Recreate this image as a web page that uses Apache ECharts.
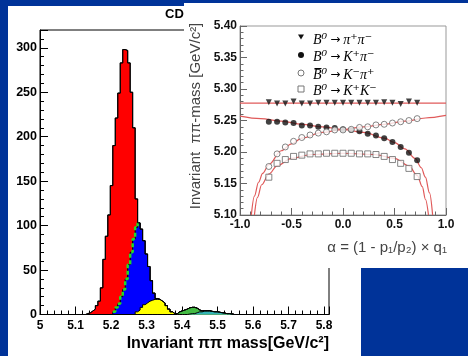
<!DOCTYPE html>
<html>
<head>
<meta charset="utf-8">
<script src="https://cdn.jsdelivr.net/npm/echarts@6/dist/echarts.min.js"></script>
<style>
  html, body { margin: 0; padding: 0; background: #003399; }
  #c { width: 468px; height: 356px; }
</style>
</head>
<body>
<div id="c"></div>
<script>
// ---- Invariant pi-pi mass histogram: 65 bins of 0.007 GeV/c^2 from 5.100 ----
const binStart = 5.100;
const binWidth = 0.007;

const redCounts = [
  0, 0, 0, 0, 1, 2, 4, 6, 10, 15, 30, 62, 88, 112, 145, 187, 213, 237, 263, 270,
  257, 227, 180, 125, 32, 0, 0, 0, 0, 0, 0, 0, 0, 0, 0, 0, 0, 0, 0, 0,
  0, 0, 0, 0, 0, 0, 0, 0, 0, 0, 0, 0, 0, 0, 0, 0, 0, 0, 0, 0,
  0, 0, 0, 0, 0
];
const blueCounts = [
  0, 0, 0, 0, 0, 0, 0, 0, 0, 0, 0, 0, 0, 0, 0, 3, 8, 12, 20, 28,
  40, 56, 70, 85, 95, 98, 88, 72, 55, 39, 22, 7, 1, 0, 0, 0, 0, 0, 0, 0,
  0, 0, 0, 0, 0, 0, 0, 0, 0, 0, 0, 0, 0, 0, 0, 0, 0, 0, 0, 0,
  0, 0, 0, 0, 0
];
const yellowCounts = [
  0, 0, 0, 0, 0, 0, 0, 0, 0, 0, 0, 0, 0, 0, 0, 0, 0, 0, 0, 0,
  0, 0, 0, 0, 3, 5, 8, 11, 13, 15, 16, 17, 17, 17, 15, 13, 10, 6, 3, 1,
  0, 0, 0, 0, 0, 0, 0, 0, 0, 0, 0, 0, 0, 0, 0, 0, 0, 0, 0, 0,
  0, 0, 0, 0, 0
];
const greenCounts = [
  0, 0, 0, 0, 0, 0, 0, 0, 0, 0, 0, 0, 0, 0, 0, 0, 0, 0, 0, 0,
  0, 0, 0, 0, 0, 0, 0, 0, 0, 0, 0, 0, 0, 0, 0, 0, 0, 0, 0, 0,
  1, 3, 4, 5, 6, 7, 7, 7, 5, 2, 1, 0, 0, 0, 0, 0, 0, 0, 0, 0,
  0, 0, 0, 0, 0
];
const cyanCounts = [
  0, 0, 0, 0, 0, 0, 0, 0, 0, 0, 0, 0, 0, 0, 0, 0, 0, 0, 0, 0,
  0, 0, 0, 0, 0, 0, 0, 0, 0, 0, 0, 0, 0, 0, 0, 0, 0, 0, 0, 0,
  0, 0, 0, 0, 0, 0.5, 1, 1, 2, 3, 3, 4, 4, 4, 3.5, 3, 3, 2.5, 2, 1.5,
  1, 1, 0.5, 0, 0
];

// ---- Mass vs. momentum asymmetry alpha (inset) ----
const alphaValues = [-0.72, -0.64, -0.56, -0.48, -0.40, -0.32, -0.24, -0.16, -0.08, 0.00,
                     0.08, 0.16, 0.24, 0.32, 0.40, 0.48, 0.56, 0.64, 0.72];
const pipiMass   = [5.279, 5.277, 5.277, 5.280, 5.277, 5.277, 5.278, 5.278, 5.278, 5.278,
                    5.278, 5.278, 5.278, 5.278, 5.279, 5.278, 5.276, 5.280, 5.278];
const kpiMass    = [5.248, 5.248, 5.247, 5.246, 5.242, 5.242, 5.240, 5.239, 5.238, 5.236,
                    5.235, 5.233, 5.229, 5.226, 5.222, 5.216, 5.208, 5.199, 5.187];
const kpibarMass = [5.177, 5.197, 5.208, 5.217, 5.223, 5.227, 5.230, 5.232, 5.235, 5.235,
                    5.236, 5.239, 5.240, 5.243, 5.244, 5.246, 5.248, 5.250, 5.253];
const kkMass     = [5.160, 5.182, 5.188, 5.193, 5.195, 5.197, 5.197, 5.198, 5.198, 5.198,
                    5.198, 5.197, 5.197, 5.196, 5.193, 5.188, 5.182, 5.174, 5.161];

// expected-mass curves
const pipiCurveAlpha  = [-1.0, 1.0];
const pipiCurveMass   = [5.2775, 5.2775];
const kpiCurveAlpha   = [-1.0, -0.8, -0.6, -0.4, -0.2, 0.0, 0.2, 0.4, 0.5, 0.6, 0.7, 0.76, 0.8, 0.84, 0.87];
const kpiCurveMass    = [5.257, 5.253, 5.249, 5.244, 5.240, 5.236, 5.231, 5.222, 5.215, 5.205, 5.190, 5.175, 5.160, 5.135, 5.100];
const kpibarCurveAlpha = [-0.89, -0.86, -0.82, -0.78, -0.72, -0.6, -0.5, -0.4, -0.2, 0.0, 0.2, 0.4, 0.6, 0.8, 1.0];
const kpibarCurveMass  = [5.100, 5.130, 5.152, 5.166, 5.180, 5.202, 5.213, 5.222, 5.231, 5.236, 5.240, 5.244, 5.249, 5.254, 5.258];
const kkCurveAlpha    = [-0.86, -0.83, -0.79, -0.72, -0.64, -0.5, -0.3, 0.0, 0.3, 0.5, 0.64, 0.72, 0.77, 0.80, 0.83];
const kkCurveMass     = [5.100, 5.128, 5.148, 5.165, 5.178, 5.190, 5.196, 5.198, 5.196, 5.190, 5.178, 5.163, 5.145, 5.125, 5.100];

// legend entries: [decay parent, daughters]
const legendParents   = ['B⁰', 'B⁰', 'B\u0305⁰', 'B⁰'];
const legendDaughters = ['π⁺π⁻', 'K⁺π⁻', 'K⁻π⁺', 'K⁺K⁻'];

const SANS = '"Liberation Sans", Arial, sans-serif';
const SERIF = '"Liberation Serif", "DejaVu Serif", serif';

// cumulative stack tops, bottom component first
function sumOf(arrays) {
  return arrays[0].map((_, i) => arrays.reduce((s, a) => s + a[i], 0));
}
const cyanTop   = sumOf([cyanCounts]);
const greenTop  = sumOf([cyanCounts, greenCounts]);
const yellowTop = sumOf([cyanCounts, greenCounts, yellowCounts]);
const blueTop   = sumOf([cyanCounts, greenCounts, yellowCounts, blueCounts]);
const totalTop  = sumOf([cyanCounts, greenCounts, yellowCounts, blueCounts, redCounts]);

// points at the left edge of each bin, plus the closing right edge
function stepPoints(vals) {
  const pts = vals.map((v, i) => [+(binStart + i * binWidth).toFixed(4), v]);
  pts.push([+(binStart + vals.length * binWidth).toFixed(4), vals[vals.length - 1]]);
  return pts;
}

function histSeries(name, vals, fill, z) {
  return {
    type: 'line', name, xAxisIndex: 0, yAxisIndex: 0,
    data: stepPoints(vals), step: 'end', symbol: 'none', showSymbol: false,
    z, silent: true,
    lineStyle: { color: '#000', width: 1 },
    areaStyle: { color: fill, opacity: 1 }
  };
}

// dashed edge of the blue component where it borders the red one
const blueEdge = stepPoints(blueTop).map((p, i) => {
  const on = k => k >= 0 && k < redCounts.length && redCounts[k] > 0 && blueCounts[k] > 0;
  return (on(i) || on(i - 1)) ? p : [p[0], null];
});

const zip = (xs, ys) => xs.map((x, i) => [x, ys[i]]);

function curveSeries(xs, ys) {
  return {
    type: 'line', xAxisIndex: 1, yAxisIndex: 1, data: zip(xs, ys),
    symbol: 'none', smooth: 0.35, smoothMonotone: 'x', z: 65, silent: true,
    lineStyle: { color: '#e05a5a', width: 1.2 }
  };
}

function markerSeries(ys, symbol, style, rotate) {
  return {
    type: 'scatter', xAxisIndex: 1, yAxisIndex: 1, data: zip(alphaValues, ys),
    symbol, symbolSize: 6, symbolRotate: rotate || 0, z: 70, silent: true,
    itemStyle: style
  };
}

const legendRich = {
  i: { fontFamily: SERIF, fontStyle: 'italic', fontSize: 14, color: '#222' },
  a: { fontFamily: '"DejaVu Sans", sans-serif', fontSize: 12, color: '#222', padding: [0, 3, 0, 3] }
};
const legendRows = [40, 57, 75, 91];
const legendTexts = legendRows.map((y, i) => ({
  type: 'text', z: 80, silent: true, x: 313, y,
  style: {
    text: '{i|' + legendParents[i] + '}{a|→}{i|' + legendDaughters[i] + '}',
    rich: legendRich, verticalAlign: 'middle'
  }
}));

const chart = echarts.init(document.getElementById('c'), null, { renderer: 'canvas', width: 468, height: 356 });

chart.setOption({
  animation: false,
  backgroundColor: '#003399',
  grid: [
    { left: 40, top: 30, width: 289, height: 284.5, show: true, borderColor: '#000', borderWidth: 1, backgroundColor: 'transparent', z: 0 },
    { left: 240, top: 26, width: 206, height: 189, show: true, borderColor: '#999', borderWidth: 1, backgroundColor: 'transparent', z: 55 }
  ],
  xAxis: [
    {
      gridIndex: 0, type: 'value', min: 5, max: 5.814, interval: 0.1,
      axisLine: { onZero: false, lineStyle: { color: '#000', width: 1 } },
      axisTick: { inside: true, length: 8, lineStyle: { color: '#000' } },
      minorTick: { show: true, splitNumber: 5, length: 4, lineStyle: { color: '#000' } },
      splitLine: { show: false },
      axisLabel: {
        margin: 5, color: '#000', fontFamily: SANS, fontWeight: 'bold', fontSize: 12,
        formatter: v => { const r = Math.round(v * 10); return Math.abs(v * 10 - r) < 1e-6 ? String(r / 10) : ''; }
      }
    },
    {
      gridIndex: 1, type: 'value', min: -1, max: 1, interval: 0.5, z: 60,
      axisLine: { onZero: false, lineStyle: { color: '#666', width: 1 } },
      axisTick: { inside: true, length: 7, lineStyle: { color: '#666' } },
      minorTick: { show: true, splitNumber: 5, length: 3.5, lineStyle: { color: '#666' } },
      splitLine: { show: false },
      axisLabel: { margin: 4, color: '#111', fontFamily: SANS, fontWeight: 'bold', fontSize: 12, formatter: v => v.toFixed(1) }
    }
  ],
  yAxis: [
    {
      gridIndex: 0, type: 'value', min: 0, max: 320, interval: 50,
      axisLine: { show: true, onZero: false, lineStyle: { color: '#000', width: 1 } },
      axisTick: { show: true, inside: true, length: 8, lineStyle: { color: '#000' } },
      minorTick: { show: true, splitNumber: 5, length: 4, lineStyle: { color: '#000' } },
      splitLine: { show: false },
      axisLabel: { margin: 3, color: '#000', fontFamily: SANS, fontWeight: 'bold', fontSize: 12.5, formatter: v => (v % 50 === 0 ? String(v) : '') }
    },
    {
      gridIndex: 1, type: 'value', min: 5.10, max: 5.40, interval: 0.05, z: 60,
      axisLine: { show: true, onZero: false, lineStyle: { color: '#666', width: 1 } },
      axisTick: { show: true, inside: true, length: 7, lineStyle: { color: '#666' } },
      minorTick: { show: true, splitNumber: 5, length: 3.5, lineStyle: { color: '#666' } },
      splitLine: { show: false },
      axisLabel: { margin: 3, color: '#111', fontFamily: SANS, fontWeight: 'bold', fontSize: 12, formatter: v => v.toFixed(2) }
    }
  ],
  series: [
    histSeries('total', totalTop, '#ff0000', 2),
    histSeries('pipi', blueTop, '#0000ff', 3),
    histSeries('kk', yellowTop, '#ffff00', 4),
    histSeries('bs', greenTop, '#44bb44', 5),
    histSeries('lb', cyanTop, '#33b5b5', 6),
    {
      type: 'line', xAxisIndex: 0, yAxisIndex: 0, data: blueEdge, step: 'end',
      symbol: 'none', z: 7, silent: true, connectNulls: false,
      lineStyle: { color: '#22dd22', width: 2.5, type: [4, 2.5] }
    },
    {
      type: 'line', xAxisIndex: 0, yAxisIndex: 0, data: stepPoints(totalTop), step: 'end',
      symbol: 'none', z: 8, silent: true,
      lineStyle: { color: '#000', width: 1 }
    },

    curveSeries(pipiCurveAlpha, pipiCurveMass),
    curveSeries(kpiCurveAlpha, kpiCurveMass),
    curveSeries(kpibarCurveAlpha, kpibarCurveMass),
    curveSeries(kkCurveAlpha, kkCurveMass),

    markerSeries(pipiMass, 'triangle', { color: '#111' }, 180),
    markerSeries(kpiMass, 'circle', { color: '#111' }),
    markerSeries(kpibarMass, 'circle', { color: '#fff', borderColor: '#666', borderWidth: 1 }),
    markerSeries(kkMass, 'rect', { color: '#fff', borderColor: '#666', borderWidth: 1 })
  ],
  graphic: [
    // white slide panels
    { type: 'rect', z: -10, silent: true, shape: { x: 8, y: 6, width: 353, height: 350 }, style: { fill: '#fff' } },
    { type: 'text', z: 1, silent: true, x: 165, y: 14,
      style: { text: 'CD', fontFamily: SANS, fontWeight: 'bold', fontSize: 13, fill: '#000', verticalAlign: 'middle' } },
    { type: 'text', z: 1, silent: true, x: 329, y: 344,
      style: { text: 'Invariant ππ mass[GeV/c²]', fontFamily: SANS, fontWeight: 'bold', fontSize: 16, fill: '#000', align: 'right', verticalAlign: 'middle' } },
    { type: 'rect', z: 50, silent: true, shape: { x: 184, y: 3, width: 284, height: 265 }, style: { fill: '#fff' } },

    // inset axis titles
    { type: 'text', z: 80, silent: true, x: 196, y: 116, rotation: Math.PI / 2,
      style: { text: 'Invariant  ππ-mass [GeV/c²]', fontFamily: SANS, fontSize: 15, fill: '#444', align: 'center', verticalAlign: 'middle' } },
    { type: 'text', z: 80, silent: true, x: 447, y: 248,
      style: { text: 'α = (1 - p₁/p₂) × q₁', fontFamily: SANS, fontSize: 15, fill: '#444', align: 'right', verticalAlign: 'middle' } },

    // inset legend markers
    { type: 'polygon', z: 80, silent: true, shape: { points: [[298, 34.5], [304, 34.5], [301, 39.5]] }, style: { fill: '#111' } },
    { type: 'circle', z: 80, silent: true, shape: { cx: 301, cy: 55, r: 3 }, style: { fill: '#111' } },
    { type: 'circle', z: 80, silent: true, shape: { cx: 301, cy: 73, r: 3 }, style: { fill: '#fff', stroke: '#777', lineWidth: 1 } },
    { type: 'rect', z: 80, silent: true, shape: { x: 298, y: 86, width: 6, height: 6 }, style: { fill: '#fff', stroke: '#777', lineWidth: 1 } }
  ].concat(legendTexts)
});
</script>
</body>
</html>
